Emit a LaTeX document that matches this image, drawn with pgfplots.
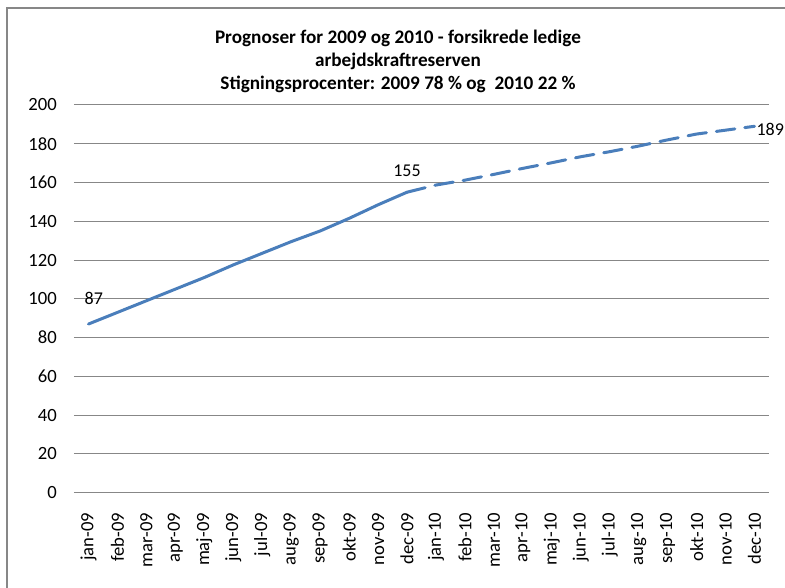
\documentclass[border=0pt]{standalone}
\usepackage{pgfplots}
\pgfplotsset{compat=1.18}
\usepackage{fontspec}
\setmainfont{Carlito}
\definecolor{linec}{HTML}{4A7EBB}
\definecolor{gridc}{HTML}{878787}
\begin{document}
\begin{tikzpicture}
\useasboundingbox (-55.5pt,-71.475pt) rectangle (533.25pt,369.525pt);
\draw[gridc, line width=0.9pt] (-50.25pt,-80pt) -- (-50.25pt,363.525pt) -- (540pt,363.525pt);
\node[font=\bfseries\fontsize{14.4}{17.3}\selectfont, align=center, anchor=center] at (243pt,323.775pt) {Prognoser for 2009 og 2010 - forsikrede ledige\\arbejdskraftreserven\\Stigningsprocenter: 2009 78 \% og \ 2010 22 \%};
\begin{axis}[
  at={(0pt,0pt)}, anchor=south west,
  scale only axis, width=521.25pt, height=290.8pt,
  xmin=-0.5, xmax=23.5, ymin=0, ymax=200,
  axis line style={draw=none},
  major tick length=0pt,
  xtick={0,...,23},
  xticklabels={jan-09,feb-09,mar-09,apr-09,maj-09,jun-09,jul-09,aug-09,sep-09,okt-09,nov-09,dec-09,jan-10,feb-10,mar-10,apr-10,maj-10,jun-10,jul-10,aug-10,sep-10,okt-10,nov-10,dec-10},
  ytick={0,20,...,200},
  ymajorgrids,
  grid style={gridc, line width=0.75pt},
  tick label style={font=\fontsize{14}{16}\selectfont},
  /pgf/number format/assume math mode=true,
  xticklabel style={rotate=90, anchor=east, inner xsep=15pt},
  yticklabel style={anchor=east, inner xsep=12.75pt},
  clip=false,
]
\addplot[linec, line width=2.25pt, line cap=round, line join=round] coordinates {
(0,87)(1,93)(2,99)(3,105)(4,111)(5,117.5)(6,123.5)(7,129.5)(8,135)(9,141.5)(10,148.5)(11,155)
};
\addplot[linec, line width=2.25pt, line cap=round, line join=round, dash pattern=on 14pt off 7.5pt] coordinates {
(11,155)(12,158.7)(13,161.2)(14,164.2)(15,167.3)(16,170.2)(17,173.3)(18,175.9)(19,178.8)(20,182)(21,185)(22,187)(23,189)
};
\node[anchor=south, font=\fontsize{13.5}{16}\selectfont, xshift=4pt, yshift=11pt] at (axis cs:0,87) {87};
\node[anchor=south, font=\fontsize{13.5}{16}\selectfont, yshift=8.5pt] at (axis cs:11,155) {155};
\node[anchor=west, font=\fontsize{13.5}{16}\selectfont, xshift=-2pt, yshift=-2pt] at (axis cs:23,189) {189};
\end{axis}
\end{tikzpicture}
\end{document}
